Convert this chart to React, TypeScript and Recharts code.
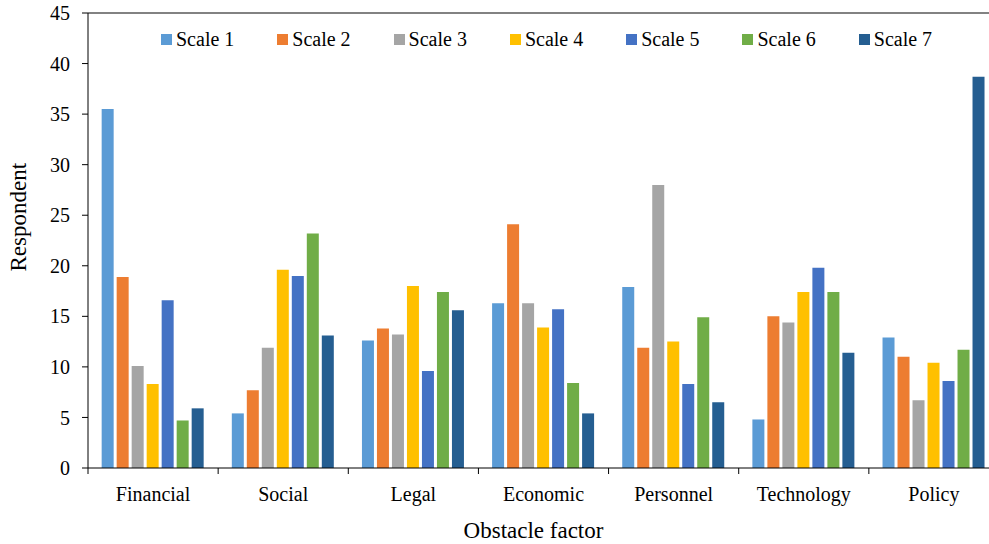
import { Bar, BarChart, Legend, ReferenceLine, XAxis, YAxis } from 'recharts'

const FONT = 'Liberation Serif, DejaVu Serif, serif'

const categories = ['Financial', 'Social', 'Legal', 'Economic', 'Personnel', 'Technology', 'Policy']

const scale1 = [35.5, 5.4, 12.6, 16.3, 17.9, 4.8, 12.9]
const scale2 = [18.9, 7.7, 13.8, 24.1, 11.9, 15.0, 11.0]
const scale3 = [10.1, 11.9, 13.2, 16.3, 28.0, 14.4, 6.7]
const scale4 = [8.3, 19.6, 18.0, 13.9, 12.5, 17.4, 10.4]
const scale5 = [16.6, 19.0, 9.6, 15.7, 8.3, 19.8, 8.6]
const scale6 = [4.7, 23.2, 17.4, 8.4, 14.9, 17.4, 11.7]
const scale7 = [5.9, 13.1, 15.6, 5.4, 6.5, 11.4, 38.7]

const yTicks = [0, 5, 10, 15, 20, 25, 30, 35, 40, 45]

const series = [
  { key: 'scale1', name: 'Scale 1', color: '#5B9BD5', values: scale1 },
  { key: 'scale2', name: 'Scale 2', color: '#ED7D31', values: scale2 },
  { key: 'scale3', name: 'Scale 3', color: '#A5A5A5', values: scale3 },
  { key: 'scale4', name: 'Scale 4', color: '#FFC000', values: scale4 },
  { key: 'scale5', name: 'Scale 5', color: '#4472C4', values: scale5 },
  { key: 'scale6', name: 'Scale 6', color: '#70AD47', values: scale6 },
  { key: 'scale7', name: 'Scale 7', color: '#255E91', values: scale7 },
]

const data = categories.map((name, i) => {
  const row: Record<string, string | number> = { name }
  series.forEach((s) => {
    row[s.key] = s.values[i]
  })
  return row
})

const CHART_W = 1000
const CHART_H = 544
const Y_AXIS_W = 88
const MARGIN = { top: 13, right: 1, left: 0, bottom: 0 }
const BAND = (CHART_W - Y_AXIS_W - MARGIN.left - MARGIN.right) / categories.length

// category label plus a boundary tick at the left edge of each band
function CategoryTick(props: any) {
  const { x, y, payload } = props
  const left = x - BAND / 2
  return (
    <g>
      <line x1={left} y1={y} x2={left} y2={y + 6} stroke="#000" strokeWidth={1} />
      <text x={x} y={y + 33} textAnchor="middle" fill="#000" style={{ fontSize: 20, fontFamily: FONT }}>
        {payload.value}
      </text>
    </g>
  )
}

function LegendContent(props: any) {
  const payload = props.payload ?? []
  return (
    <div style={{ display: 'flex', fontFamily: FONT, fontSize: 20, lineHeight: '22px', color: '#000' }}>
      {payload.map((entry: any) => (
        <div key={entry.value} style={{ width: 116.3, display: 'flex', alignItems: 'center' }}>
          <span style={{ width: 11, height: 11, background: entry.color, marginRight: 4, display: 'inline-block' }} />
          <span>{entry.value}</span>
        </div>
      ))}
    </div>
  )
}

export default function App() {
  return (
    <div
      style={{
        position: 'fixed',
        left: 0,
        top: 0,
        width: 989,
        height: 544,
        overflow: 'hidden',
        background: '#fff',
        fontFamily: FONT,
      }}
    >
      <BarChart
        width={CHART_W}
        height={CHART_H}
        data={data}
        margin={MARGIN}
        barCategoryGap="10.5%"
        barGap={3}
        style={{ fontFamily: FONT }}
      >
        <XAxis
          dataKey="name"
          height={76}
          tick={<CategoryTick />}
          tickLine={false}
          tickSize={0}
          tickMargin={0}
          interval={0}
          axisLine={{ stroke: '#000', strokeWidth: 1 }}
          label={{
            value: 'Obstacle factor',
            position: 'insideBottom',
            offset: 6,
            dx: -10,
            fill: '#000',
            fontSize: 23,
            style: { fontFamily: FONT },
          }}
        />
        <YAxis
          width={Y_AXIS_W}
          domain={[0, 45]}
          ticks={yTicks}
          interval={0}
          tickSize={6}
          tickMargin={12}
          tick={{ fill: '#000', fontSize: 20, style: { fontFamily: FONT } }}
          tickLine={{ stroke: '#000' }}
          axisLine={{ stroke: '#000', strokeWidth: 1 }}
          label={{
            value: 'Respondent',
            angle: -90,
            position: 'insideLeft',
            offset: 18,
            dy: 31,
            fill: '#000',
            fontSize: 23,
            style: { fontFamily: FONT },
          }}
        />
        <ReferenceLine y={45} stroke="#595959" strokeWidth={1.5} />
        <Legend
          verticalAlign="top"
          align="left"
          content={<LegendContent />}
          wrapperStyle={{ top: 28, left: 161, width: 'auto', height: 0, overflow: 'visible' }}
        />
        {series.map((s) => (
          <Bar key={s.key} dataKey={s.key} name={s.name} fill={s.color} isAnimationActive={false} />
        ))}
      </BarChart>
    </div>
  )
}
